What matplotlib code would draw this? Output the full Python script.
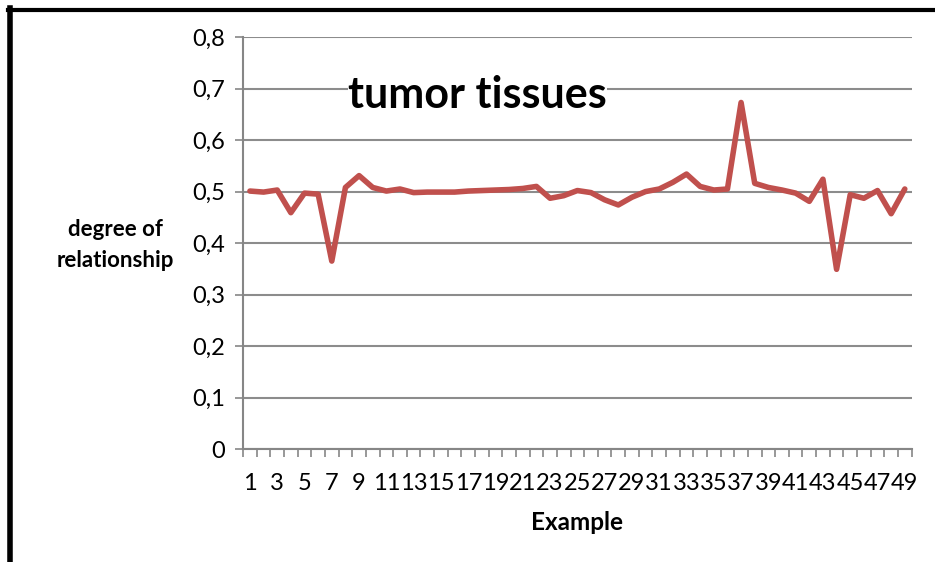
import matplotlib
matplotlib.use('Agg')
from matplotlib import pyplot as plt
from matplotlib.ticker import FixedLocator

# values
examples = list(range(1, 50))
relationship = [
    0.501, 0.499, 0.503, 0.459, 0.497, 0.495, 0.365, 0.508, 0.531, 0.508,
    0.501, 0.505, 0.498, 0.499, 0.499, 0.499, 0.501, 0.502, 0.503, 0.504,
    0.506, 0.510, 0.487, 0.492, 0.502, 0.498, 0.484, 0.474, 0.489, 0.500,
    0.505, 0.518, 0.534, 0.510, 0.503, 0.505, 0.673, 0.516, 0.508, 0.503,
    0.497, 0.481, 0.524, 0.349, 0.494, 0.487, 0.502, 0.457, 0.505,
]
y_ticks = [0, 0.1, 0.2, 0.3, 0.4, 0.5, 0.6, 0.7, 0.8]
y_tick_labels = ['0', '0,1', '0,2', '0,3', '0,4', '0,5', '0,6', '0,7', '0,8']

plt.rcParams['font.family'] = ['Lato', 'DejaVu Sans']

fig = plt.figure(figsize=(9.35, 5.62), dpi=100)
ax = fig.add_axes([0.260, 0.201, 0.715, 0.733])

axis_grey = '#868686'
ax.plot(examples, relationship, color='#C0504D', linewidth=4,
        solid_joinstyle='round', solid_capstyle='round', zorder=3)

ax.set_xlim(0.5, 49.5)
ax.set_ylim(0, 0.8)
ax.set_yticks(y_ticks)
ax.set_yticklabels(y_tick_labels)
ax.set_xticks(examples[::2])
ax.set_xticklabels([str(e) for e in examples[::2]])
ax.xaxis.set_minor_locator(FixedLocator([e - 0.5 for e in examples] + [49.5]))

ax.tick_params(axis='x', which='major', length=0, pad=17, labelsize=17)
ax.tick_params(axis='x', which='minor', length=6, color=axis_grey, width=1.2)
ax.tick_params(axis='y', length=6, color=axis_grey, width=1.2, pad=7,
               labelsize=17)

ax.grid(axis='y', color='#8c8c8c', linewidth=1.5, zorder=0)
for side in ['top', 'right']:
    ax.spines[side].set_visible(False)
for side in ['left', 'bottom']:
    ax.spines[side].set_color(axis_grey)
    ax.spines[side].set_linewidth(1.5)

ax.text(0.157, 0.86, 'tumor tissues', transform=ax.transAxes,
        fontsize=31, fontweight='bold', va='center', ha='left', zorder=4,
        bbox=dict(facecolor='white', edgecolor='none', pad=0))

fig.text(115 / 935, 1 - 245 / 562, 'degree of\nrelationship',
         fontsize=16, fontweight='bold', ha='center', va='center',
         linespacing=1.55)
fig.text(577 / 935, 1 - 522 / 562, 'Example', fontsize=17.5,
         fontweight='bold', ha='center', va='center')

# black frame on the left and top edges
fig.add_artist(plt.Line2D([9.5 / 935, 9.5 / 935], [0, 1 - 8 / 562],
                          color='black', linewidth=4, transform=fig.transFigure))
fig.add_artist(plt.Line2D([7.5 / 935, 1], [1 - 9.5 / 562, 1 - 9.5 / 562],
                          color='black', linewidth=3, transform=fig.transFigure))

fig.savefig('out.png', dpi=100)
